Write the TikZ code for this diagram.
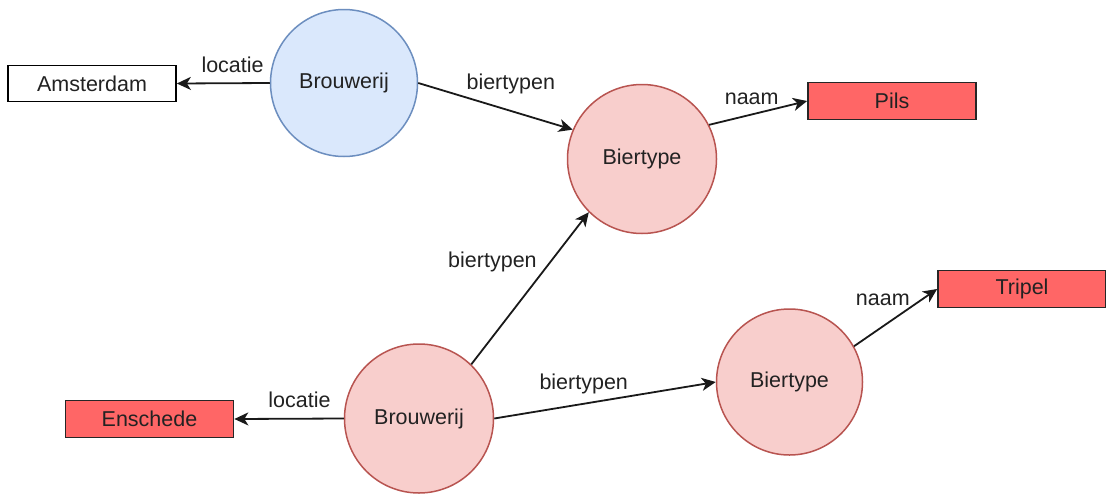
\documentclass[tikz,border=0pt]{standalone}
\usepackage{fontspec}
\setmainfont{Liberation Sans}
\usetikzlibrary{arrows.meta}
\definecolor{bluefill}{HTML}{DAE8FC}
\definecolor{bluedraw}{HTML}{6C8EBF}
\definecolor{pinkfill}{HTML}{F8CECC}
\definecolor{pinkdraw}{HTML}{B85450}
\definecolor{redfill}{HTML}{FF6666}
\definecolor{txt}{HTML}{222222}
\begin{document}
\begin{tikzpicture}[x=1pt,y=-1pt,
  every node/.style={font=\fontsize{21.5}{25}\selectfont, text=txt},
  bluecirc/.style={circle, draw=bluedraw, fill=bluefill, line width=1.5pt, minimum size=147pt, inner sep=0pt},
  pinkcirc/.style={circle, draw=pinkdraw, fill=pinkfill, line width=1.5pt, minimum size=149pt, inner sep=0pt},
  whitebox/.style={rectangle, draw=black, fill=white, line width=1.7pt, minimum width=168pt, minimum height=36pt, inner sep=0pt},
  redbox/.style={rectangle, draw=black!85, fill=redfill, line width=1.7pt, minimum width=168pt, minimum height=37pt, inner sep=0pt},
  conn/.style={draw=black!90, line width=1.8pt, -{Stealth[length=14pt,width=13pt,inset=4pt]}},
  lbl/.style={anchor=base, inner sep=0pt}
]
\useasboundingbox (0,0) rectangle (1106,493);
\fill[white] (0,0) rectangle (1106,493);

\node[bluecirc] (b1) at (344,83) {Brouwerij};
\node[whitebox] (ams) at (92,83.5) {Amsterdam};
\node[pinkcirc] (bt1) at (642,159) {Biertype};
\node[redbox] (pils) at (892,101) {Pils};
\node[pinkcirc] (b2) at (419,418.5) {Brouwerij};
\node[redbox] (ens) at (149.5,419) {Enschede};
\node[pinkcirc, minimum size=146pt] (bt2) at (789.5,382) {Biertype};
\node[redbox] (tri) at (1022,289) {Tripel};

\draw[conn] (b1.west) -- (ams.east)
  node[lbl, pos=0.4, yshift=10.9pt] {locatie};
\draw[conn] (b1.east) -- (bt1.157.3)
  node[lbl, pos=0.599, yshift=21.2pt] {biertypen};
\draw[conn] (bt1.27) -- (pils.west)
  node[lbl, pos=0.435, yshift=10.3pt] {naam};
\draw[conn] (b2.46) -- (bt1.225)
  node[lbl, pos=0.678, xshift=-58.5pt, yshift=-6.3pt] {biertypen};
\draw[conn] (b2.east) -- (bt2.west)
  node[lbl, pos=0.404, yshift=14.4pt] {biertypen};
\draw[conn] (bt2.29.5) -- (tri.west)
  node[lbl, pos=0.347, yshift=21.2pt] {naam};
\draw[conn] (b2.west) -- (ens.east)
  node[lbl, pos=0.405, yshift=11.1pt] {locatie};
\end{tikzpicture}
\end{document}
